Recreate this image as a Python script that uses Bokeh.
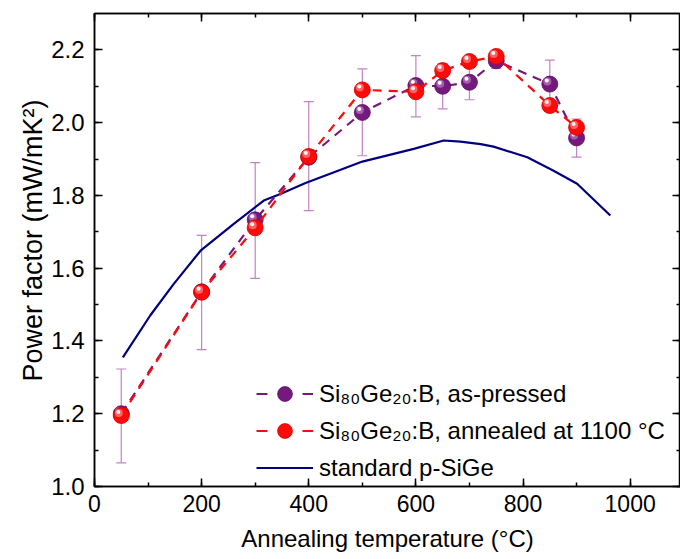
import numpy as np
from bokeh.plotting import figure
from bokeh.models import (ColumnDataSource, Whisker, TeeHead, LinearAxis, Legend,
                          LegendItem, Range1d, SingleIntervalTicker, NumeralTickFormatter,
                          CustomJSTickFormatter, Title)
from bokeh.embed import file_html
from bokeh.resources import INLINE

# ---------------- data ----------------
temperature = [50, 200, 300, 400, 500, 600, 650, 700, 750, 850, 900]
pf_as_pressed = [1.200, 1.535, 1.733, 1.905, 2.028, 2.102, 2.100, 2.111, 2.170, 2.106, 1.958]
pf_err_upper = [1.323, 1.690, 1.890, 2.058, 2.148, 2.184, 2.162, 2.159, 2.191, 2.172, 2.010]
pf_err_lower = [1.065, 1.376, 1.572, 1.758, 1.909, 2.016, 2.038, 2.063, 2.149, 2.040, 1.905]
pf_annealed = [1.195, 1.534, 1.711, 1.907, 2.090, 2.085, 2.143, 2.168, 2.182, 2.047, 1.987]

std_temperature = [53, 104, 148, 198, 260, 316, 347, 394, 446, 500, 596, 652, 683, 721,
                   745, 808, 857, 901, 963]
std_pf = [1.355, 1.470, 1.557, 1.648, 1.722, 1.786, 1.804, 1.834, 1.863, 1.893, 1.928,
          1.951, 1.948, 1.941, 1.934, 1.905, 1.868, 1.832, 1.745]

label_as_pressed = "Si\u2088\u2080Ge\u2082\u2080:B, as-pressed"
label_annealed = "Si\u2088\u2080Ge\u2082\u2080:B, annealed at 1100 \u00b0C"
label_standard = "standard p-SiGe"
x_title = "Annealing temperature (\u00b0C)"
y_title = "Power factor (mW/mK\u00b2)"

# ---------------- style ----------------
FONT = "Liberation Sans"
PURPLE = "#76197e"
PURPLE_EDGE = "#5a0f61"
PURPLE_HI = "#b777bd"
RED = "#ff0a0a"
RED_EDGE = "#d40000"
RED_HI = "#ff8080"
NAVY = "#00007f"
ERR = "#c283c6"

W, H = 680, 558
BL, BR, BT, BB = 94, 0, 13, 72
X0, X1 = 0, 1094
Y0, Y1 = 1.0, 2.3

p = figure(width=W, height=H, x_range=Range1d(X0, X1), y_range=Range1d(Y0, Y1),
           output_backend="svg", toolbar_location=None,
           min_border_left=BL, min_border_right=BR, min_border_top=BT, min_border_bottom=BB,
           x_axis_label=x_title)
p.grid.visible = False
p.outline_line_color = "black"
p.outline_line_width = 1.5
p.background_fill_color = "white"
p.border_fill_color = "white"

bottom_axis = p.below[0]
left_axis = p.left[0]

xticker = SingleIntervalTicker(interval=200, num_minor_ticks=2)
yticker = SingleIntervalTicker(interval=0.2, num_minor_ticks=2)
bottom_axis.ticker = xticker
left_axis.ticker = yticker
left_axis.formatter = NumeralTickFormatter(format="0.0")

top_axis = LinearAxis(ticker=xticker, formatter=CustomJSTickFormatter(code="return ''"))
right_axis = LinearAxis(ticker=yticker, formatter=CustomJSTickFormatter(code="return ''"))
p.add_layout(top_axis, "above")
p.add_layout(right_axis, "right")

for ax in [bottom_axis, left_axis, top_axis, right_axis]:
    ax.major_tick_in = 8
    ax.major_tick_out = 0
    ax.minor_tick_in = 4
    ax.minor_tick_out = 0
    ax.axis_line_width = 1.5
    ax.major_tick_line_width = 1.5
    ax.minor_tick_line_width = 1.5
    ax.axis_line_color = "black"
    ax.major_tick_line_color = "black"
    ax.minor_tick_line_color = "black"
    ax.major_label_text_font = FONT
    ax.major_label_text_font_size = "23px"
    ax.major_label_text_color = "black"
    ax.axis_label_text_font = FONT
    ax.axis_label_text_font_style = "normal"
    ax.axis_label_text_color = "black"

for ax in [top_axis, right_axis]:
    ax.major_label_text_font_size = "0px"
    ax.major_label_standoff = 0

bottom_axis.major_label_standoff = 8
bottom_axis.axis_label_standoff = 10
bottom_axis.axis_label_text_font_size = "24px"
left_axis.major_label_text_font_size = "24px"
left_axis.major_label_standoff = 10

# y-axis title as a side title, starting a little above the frame bottom
y_label = Title(text=y_title, align="left", offset=105, standoff=2,
                text_font=FONT, text_font_size="27px", text_font_style="normal",
                text_color="black")
p.add_layout(y_label, "left")

# ---------------- error bars (as-pressed) ----------------
err_src = ColumnDataSource(dict(x=temperature, upper=pf_err_upper, lower=pf_err_lower))
whisk = Whisker(source=err_src, base="x", upper="upper", lower="lower",
                line_color=ERR, line_width=1.2, level="underlay",
                upper_head=TeeHead(size=10, line_color=ERR, line_width=1.2),
                lower_head=TeeHead(size=10, line_color=ERR, line_width=1.2))
p.add_layout(whisk)

# ---------------- lines ----------------
r_std = p.line(std_temperature, std_pf, line_color=NAVY, line_width=2.2)

# pixel -> data conversion for small highlight offsets on the spheres
fw = W - BL - BR
fh = H - BT - BB
dx = (X1 - X0) / fw
dy = (Y1 - Y0) / fh


def spheres(xs, ys, base, edge, hi):
    xs = np.asarray(xs, dtype=float)
    ys = np.asarray(ys, dtype=float)
    r_base = p.scatter(xs, ys, size=16, fill_color=base, line_color=edge, line_width=0.8)
    p.scatter(xs - 2.5 * dx, ys + 2.5 * dy, size=8, fill_color=hi, fill_alpha=0.75,
              line_color=None)
    p.scatter(xs - 3.0 * dx, ys + 3.5 * dy, size=4, fill_color="white", fill_alpha=0.95,
              line_color=None)
    return r_base


r_pl = p.line(temperature, pf_as_pressed, line_color=PURPLE, line_width=2.2, line_dash="9 7")
r_pm = spheres(temperature, pf_as_pressed, PURPLE, PURPLE_EDGE, PURPLE_HI)
r_rl = p.line(temperature, pf_annealed, line_color=RED, line_width=2.2, line_dash="9 7")
r_rm = spheres(temperature, pf_annealed, RED, RED_EDGE, RED_HI)

# legend-only dashed samples
leg_p = p.line(x=[np.nan], y=[np.nan], line_color=PURPLE, line_width=2.2, line_dash="11 35")
leg_r = p.line(x=[np.nan], y=[np.nan], line_color=RED, line_width=2.2, line_dash="11 35")

legend = Legend(items=[
    LegendItem(label=label_as_pressed, renderers=[leg_p, r_pm]),
    LegendItem(label=label_annealed, renderers=[leg_r, r_rm]),
    LegendItem(label=label_standard, renderers=[r_std]),
], location=(162, 0))
legend.glyph_width = 57
legend.glyph_height = 37
legend.label_height = 37
legend.spacing = 0
legend.padding = 0
legend.margin = 0
legend.label_standoff = 6
legend.border_line_color = None
legend.background_fill_alpha = 0
legend.label_text_font = FONT
legend.label_text_font_size = "24px"
legend.label_text_color = "black"
legend.label_text_baseline = "middle"
p.add_layout(legend)

open("out.html", "w").write(file_html(p, INLINE))
